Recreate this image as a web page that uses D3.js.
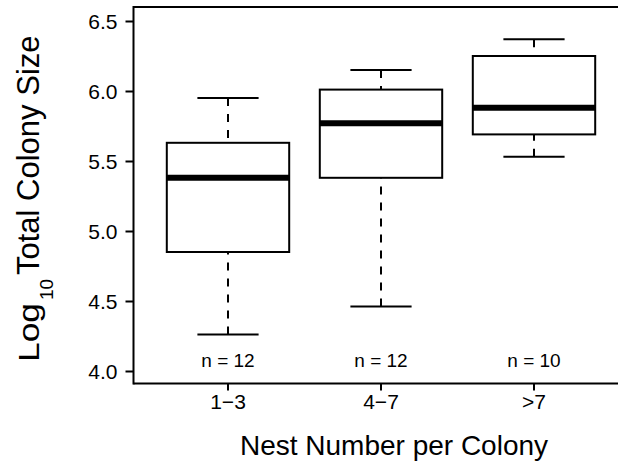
<!DOCTYPE html>
<html>
<head>
<meta charset="utf-8">
<script src="https://cdn.jsdelivr.net/npm/d3@7"></script>
<style>
  body { margin: 0; background: #fff; }
  text { font-family: "Liberation Sans", Arial, sans-serif; fill: #000; }
</style>
</head>
<body>
<svg id="chart"></svg>
<script>
// box stats per nest-number group (log10 colony size)
let categories = ['1\u22123', '4\u22127', '>7'];
let lowerWhisker = [4.26, 4.46, 5.53];
let q1 = [4.85, 5.38, 5.69];
let median = [5.38, 5.77, 5.88];
let q3 = [5.63, 6.01, 6.25];
let upperWhisker = [5.95, 6.15, 6.37];
let counts = [12, 12, 10];
let yTicks = [4.0, 4.5, 5.0, 5.5, 6.0, 6.5];

let svgWidth = 618,
    svgHeight = 468;

let plotLeft = 133.5, plotTop = 7, plotBottom = 383.5;

let svg = d3.select('#chart')
            .attr('width', svgWidth)
            .attr('height', svgHeight);

let xScale = d3.scaleBand()
               .domain(categories)
               .range([151.5, 610.5])
               .paddingInner(0.2)
               .paddingOuter(0.1);

let yScale = d3.scaleLinear()
               .domain([4, 6.5])
               .range([371, 21]);

let bw = xScale.bandwidth();

let boxes = categories.map((c, i) => ({
    cat: c, lo: lowerWhisker[i], q1: q1[i], med: median[i],
    q3: q3[i], hi: upperWhisker[i], n: counts[i]
}));

let g = svg.selectAll('g.box')
           .data(boxes)
           .enter()
           .append('g')
           .attr('class', 'box');

let cx = d => xScale(d.cat) + bw / 2;

// whiskers, drawn from cap toward box so dashes start at the cap
g.append('line')
 .attr('x1', cx).attr('x2', cx)
 .attr('y1', d => yScale(d.hi)).attr('y2', d => yScale(d.q3))
 .attr('stroke', '#000').attr('stroke-width', 2).attr('stroke-dasharray', '8,8');
g.append('line')
 .attr('x1', cx).attr('x2', cx)
 .attr('y1', d => yScale(d.lo)).attr('y2', d => yScale(d.q1))
 .attr('stroke', '#000').attr('stroke-width', 2).attr('stroke-dasharray', '8,8');

// caps
['hi', 'lo'].forEach(k => {
    g.append('line')
     .attr('x1', d => cx(d) - bw / 4).attr('x2', d => cx(d) + bw / 4)
     .attr('y1', d => yScale(d[k])).attr('y2', d => yScale(d[k]))
     .attr('stroke', '#000').attr('stroke-width', 2);
});

g.append('rect')
 .attr('x', d => xScale(d.cat))
 .attr('width', bw)
 .attr('y', d => yScale(d.q3))
 .attr('height', d => yScale(d.q1) - yScale(d.q3))
 .attr('fill', '#fff')
 .attr('stroke', '#000')
 .attr('stroke-width', 2);

g.append('line')
 .attr('x1', d => xScale(d.cat)).attr('x2', d => xScale(d.cat) + bw)
 .attr('y1', d => yScale(d.med)).attr('y2', d => yScale(d.med))
 .attr('stroke', '#000').attr('stroke-width', 6);

g.append('text')
 .attr('x', cx)
 .attr('y', 367)
 .attr('text-anchor', 'middle')
 .style('font-size', '19px')
 .text(d => 'n = ' + d.n);

// frame: left, bottom, top (plot runs off the right edge)
let frame = svg.append('g').attr('stroke', '#000').attr('stroke-width', 2);
frame.append('line').attr('x1', plotLeft).attr('x2', svgWidth).attr('y1', plotTop).attr('y2', plotTop);
frame.append('line').attr('x1', plotLeft).attr('x2', svgWidth).attr('y1', plotBottom).attr('y2', plotBottom);
frame.append('line').attr('x1', plotLeft).attr('x2', plotLeft).attr('y1', plotTop - 1).attr('y2', plotBottom + 1);

// axes
let yAxis = d3.axisLeft(yScale)
              .tickValues(yTicks)
              .tickFormat(d3.format('.1f'))
              .tickSize(8)
              .tickPadding(8);
let ya = svg.append('g')
            .attr('transform', `translate(${plotLeft},0)`)
            .call(yAxis);
ya.select('.domain').remove();
ya.selectAll('line').attr('stroke-width', 2);
ya.selectAll('text').style('font-size', '21px').attr('dy', '0.35em');

let xAxis = d3.axisBottom(xScale)
              .tickSize(7)
              .tickPadding(4);
let xa = svg.append('g')
            .attr('transform', `translate(0,${plotBottom})`)
            .call(xAxis);
xa.select('.domain').remove();
xa.selectAll('line').attr('stroke-width', 2);
xa.selectAll('text').style('font-size', '21px');

// titles
svg.append('text')
   .attr('x', 394)
   .attr('y', 455)
   .attr('text-anchor', 'middle')
   .style('font-size', '28px')
   .text('Nest Number per Colony');

// y title in three pieces: wide "Log", dropped subscript, then the rest
let yt = svg.append('g');
yt.append('text')
  .attr('transform', 'translate(38.5,362) rotate(-90) scale(1.18,1)')
  .style('font-size', '30px')
  .text('Log');
yt.append('text')
  .attr('transform', 'translate(53,300) rotate(-90)')
  .style('font-size', '19px')
  .text('10');
yt.append('text')
  .attr('transform', 'translate(38.5,275) rotate(-90)')
  .style('font-size', '31px')
  .text('Total Colony Size');
</script>
</body>
</html>
